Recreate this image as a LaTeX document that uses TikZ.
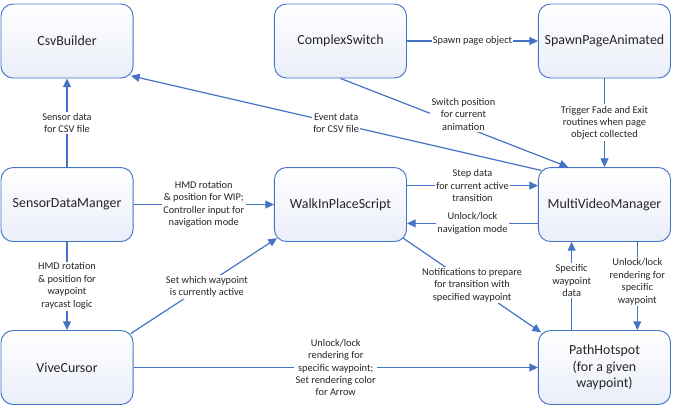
\documentclass[tikz,border=0pt]{standalone}
\usepackage{fontspec}
\setmainfont{Carlito}
\usetikzlibrary{arrows.meta,calc}
\definecolor{linkblue}{RGB}{68,114,196}
\definecolor{boxtint}{RGB}{234,238,249}
\tikzset{
  module/.style={draw=linkblue, line width=0.7pt, rounded corners=0.32cm,
    top color=white, bottom color=boxtint, minimum width=3.5cm,
    minimum height=1.96cm, align=center,
    font=\fontsize{10.5}{12.6}\selectfont, text=black!85},
  flow/.style={draw=linkblue, line width=0.9pt,
    -{Triangle[length=2.3mm,width=2.1mm]}},
  note/.style={fill=white, inner sep=1pt, align=center,
    font=\fontsize{7.8}{9.4}\selectfont, text=black!85}
}
\begin{document}
\begin{tikzpicture}
    \useasboundingbox (0,0) rectangle (17.914,10.786);
    \node[module] (csv) at (1.776,9.699) {CsvBuilder};
    \node[module] (cs) at (9.023,9.699) {ComplexSwitch};
    \node[module] (spawn) at (16.019,9.699) {SpawnPageAnimated};
    \node[module] (sdm) at (1.776,5.366) {SensorDataManger};
    \node[module] (wip) at (9.023,5.366) {WalkInPlaceScript};
    \node[module] (mvm) at (16.019,5.366) {MultiVideoManager};
    \node[module] (vc) at (1.776,1.047) {ViveCursor};
    \node[module] (hot) at (16.019,1.047) {PathHotspot\\(for a given\\waypoint)};

    \draw[flow] (sdm) -- node[note] {Sensor data\\for CSV file} (csv);
    \draw[flow] ($(mvm.north west)+(0.09,-0.09)$) -- node[note] {Event data\\for CSV file} ($(csv.south east)+(-0.07,0.07)$);
    \draw[flow] (cs) -- node[note] {Spawn page object} (spawn);
    \draw[flow] (cs.south) -- node[note, pos=0.54, yshift=9pt] {Switch position\\for current\\animation} ($(mvm.north west)+(0.8,0)$);
    \draw[flow] (spawn) -- node[note] {Trigger Fade and Exit\\routines when page\\object collected} (mvm);
    \draw[flow] (sdm) -- node[note] {HMD rotation\\\& position for WIP;\\Controller input for\\navigation mode} (wip);
    \draw[flow] ([yshift=0.5cm]wip.east) -- node[note] {Step data\\for current active\\transition} ([yshift=0.5cm]mvm.west);
    \draw[flow] ([yshift=-0.5cm]mvm.west) -- node[note] {Unlock/lock\\navigation mode} ([yshift=-0.5cm]wip.east);
    \draw[flow] (sdm) -- node[note] {HMD rotation\\\& position for\\waypoint\\raycast logic} (vc);
    \draw[flow] ($(vc.north east)+(-0.07,-0.09)$) -- node[note, pos=0.52, yshift=-2pt] {Set which waypoint\\is currently active} ($(wip.south west)+(0.08,0.1)$);
    \draw[flow] (vc) -- node[note] {Unlock/lock\\rendering for\\specific waypoint;\\Set rendering color\\for Arrow} (hot);
    \draw[flow] ($(wip.south east)+(-0.1,0.1)$) -- node[note] {Notifications to prepare\\for transition with\\specified waypoint} ($(hot.north west)+(0.08,-0.06)$);
    \draw[flow] ([xshift=-0.87cm]hot.north) -- node[note, pos=0.56] {Specific\\waypoint\\data} ([xshift=-0.87cm]mvm.south);
    \draw[flow] ([xshift=0.87cm]mvm.south) -- node[note, pos=0.45] {Unlock/lock\\rendering for\\specific\\waypoint} ([xshift=0.87cm]hot.north);
\end{tikzpicture}
\end{document}
